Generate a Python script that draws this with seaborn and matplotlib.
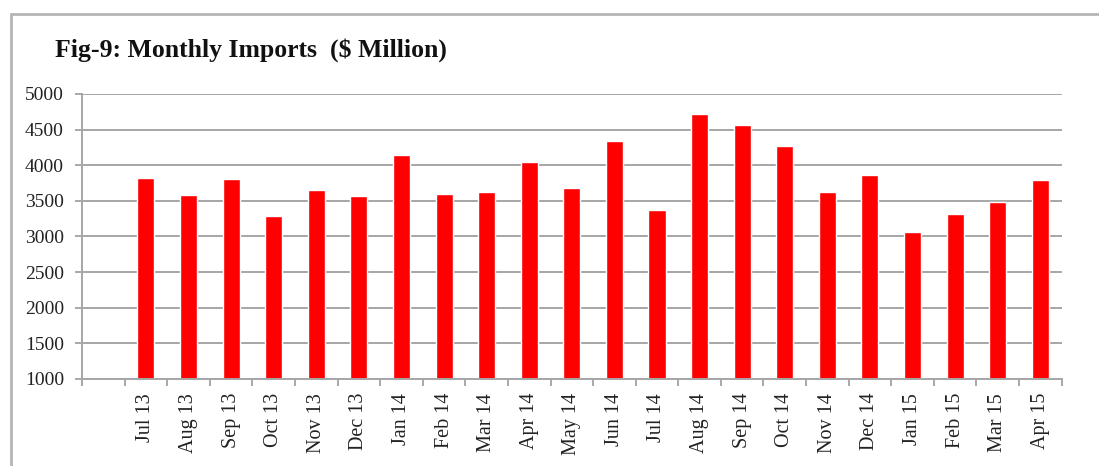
import numpy as np
import pandas as pd
import matplotlib
matplotlib.use('Agg')
import matplotlib.pyplot as plt
from matplotlib.lines import Line2D
from matplotlib.ticker import FixedLocator
import seaborn as sns

months = ['Jul 13', 'Aug 13', 'Sep 13', 'Oct 13', 'Nov 13', 'Dec 13',
          'Jan 14', 'Feb 14', 'Mar 14', 'Apr 14', 'May 14', 'Jun 14',
          'Jul 14', 'Aug 14', 'Sep 14', 'Oct 14', 'Nov 14', 'Dec 14',
          'Jan 15', 'Feb 15', 'Mar 15', 'Apr 15']
imports = [3820, 3580, 3800, 3290, 3650, 3570,
           4140, 3600, 3630, 4050, 3680, 4340,
           3370, 4720, 4560, 4270, 3630, 3860,
           3060, 3320, 3490, 3790]
yticks = [1000, 1500, 2000, 2500, 3000, 3500, 4000, 4500, 5000]

df = pd.DataFrame({'Month': months, 'Imports': imports})

sns.set_theme(style='white')
plt.rcParams['font.family'] = ['Liberation Serif', 'DejaVu Serif']

fig = plt.figure(figsize=(10.99, 4.66), dpi=100)
ax = fig.add_axes([0.0746, 0.1867, 0.8914, 0.6116])

sns.barplot(data=df, x='Month', y='Imports', color='#ff0000', saturation=1,
            width=0.4, ax=ax)

# one empty slot before the first month, like the original
ax.set_xlim(-1.5, len(months) - 0.5)
ax.set_ylim(1000, 5000)
ax.set_yticks(yticks)
ax.set_yticklabels([str(v) for v in yticks], fontsize=14, color='#222222')
ax.set_xticks(range(len(months)))
ax.set_xticklabels(months, rotation=90, fontsize=14.5, color='#222222')
ax.xaxis.set_minor_locator(FixedLocator(np.arange(-1.5, len(months), 1.0)))
ax.tick_params(axis='x', which='major', length=0, pad=10)
ax.tick_params(axis='x', which='minor', length=5, width=1.2, color='#999999',
               direction='out', bottom=True)
ax.tick_params(axis='y', length=5, width=1.2, color='#999999', direction='out',
               left=True, pad=8)
ax.set_xlabel('')
ax.set_ylabel('')

ax.yaxis.grid(True, color='#a6a6a6', linewidth=1.4)
ax.set_axisbelow(True)
for s in ['top', 'right']:
    ax.spines[s].set_visible(False)
for s in ['left', 'bottom']:
    ax.spines[s].set_color('#a6a6a6')
    ax.spines[s].set_linewidth(1.4)

fig.text(55 / 1099, 1 - 50 / 466, 'Fig-9: Monthly Imports  ($ Million)',
         fontsize=18.5, fontweight='bold', color='#111111', va='center', ha='left')

# outer frame of the original picture
fig.add_artist(Line2D([11 / 1099, 1.0], [1 - 14 / 466, 1 - 14 / 466],
                      color='#b5b5b5', linewidth=2, transform=fig.transFigure))
fig.add_artist(Line2D([11 / 1099, 11 / 1099], [0.0, 1 - 14 / 466],
                      color='#b5b5b5', linewidth=2, transform=fig.transFigure))

fig.savefig('out.png', dpi=100)
